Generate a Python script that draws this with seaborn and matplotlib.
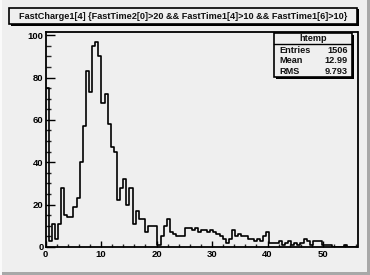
import numpy as np
import pandas as pd
import matplotlib
matplotlib.use("Agg")
import matplotlib.pyplot as plt
import seaborn as sns
from matplotlib.patches import Rectangle
from matplotlib.lines import Line2D

# ---- data ----
counts = [75, 3, 11, 4, 11, 28, 15, 14, 14, 19,
          23, 40, 57, 83, 73, 95, 97, 90, 68, 72,
          58, 47, 45, 22, 28, 32, 20, 28, 11, 17,
          13, 13, 7, 10, 10, 10, 1, 5, 10, 13,
          7, 6, 5, 5, 5, 9, 9, 8, 9, 7,
          8, 8, 7, 8, 7, 6, 5, 4, 2, 4,
          8, 5, 6, 5, 5, 4, 4, 3, 4, 3,
          5, 7, 2, 2, 2, 3, 1, 2, 3, 1,
          2, 1, 2, 4, 3, 1, 3, 3, 3, 1,
          1, 1, 0, 0, 0, 0, 1, 0, 0, 0]
x_range = [0.0, 56.0]
title_text = "FastCharge1[4] {FastTime2[0]>20 && FastTime1[4]>10 && FastTime1[6]>10}"
stats_name = "htemp"
stats_labels = ["Entries", "Mean", "RMS"]
stats_values = ["1506", "12.99", "9.793"]
x_ticks = [0, 10, 20, 30, 40, 50]
y_ticks = [0, 20, 40, 60, 80, 100]

n_bins = len(counts)
edges = np.linspace(x_range[0], x_range[1], n_bins + 1)
centers = (edges[:-1] + edges[1:]) / 2
df = pd.DataFrame({"x": centers, "w": counts})

sns.set_theme(style="ticks")
plt.rcParams["font.family"] = ["Liberation Sans", "DejaVu Sans"]

W, H = 370, 275
def fx(px):
    return px / W
def fy(py):
    return 1 - py / H

bg = "#efefef"
fig = plt.figure(figsize=(W / 100, H / 100), dpi=100)
fig.patch.set_facecolor(bg)

# canvas bevel
fig.add_artist(Rectangle((fx(0), fy(275)), fx(370), 3 / H, transform=fig.transFigure,
                         facecolor="#a8a8a8", edgecolor="none"))
fig.add_artist(Rectangle((fx(367), fy(275)), 3 / W, 1, transform=fig.transFigure,
                         facecolor="#a8a8a8", edgecolor="none"))
fig.add_artist(Rectangle((fx(0), fy(275)), 2 / W, 1, transform=fig.transFigure,
                         facecolor="#fafafa", edgecolor="none"))

ax = fig.add_axes([fx(45.5), fy(247), (357.5 - 45.5) / W, (247 - 32) / H])
ax.set_facecolor(bg)
sns.histplot(data=df, x="x", weights="w", bins=n_bins, binrange=tuple(x_range),
             element="step", fill=False, color="black", linewidth=1.2, ax=ax)
ax.set_xlim(0, 56.2)
ax.set_ylim(0, 101.5)
ax.set_xlabel("")
ax.set_ylabel("")
for s in ax.spines.values():
    s.set_linewidth(1.3)
    s.set_color("black")
ax.set_xticks(x_ticks)
ax.set_yticks(y_ticks)
ax.set_xticks(np.arange(0, 56.2, 2), minor=True)
ax.set_yticks(np.arange(0, 101.5, 5), minor=True)
ax.tick_params(axis="x", which="major", direction="in", length=4, width=1, pad=2,
               labelsize=6.8, colors="black")
ax.tick_params(axis="x", which="minor", direction="in", length=2, width=1)
ax.tick_params(axis="y", which="major", direction="in", length=6.5, width=1, pad=1.5,
               labelsize=6.8, colors="black")
ax.tick_params(axis="y", which="minor", direction="in", length=3.5, width=1)
for lab in ax.get_xticklabels() + ax.get_yticklabels():
    lab.set_fontweight("bold")

# title box with shadow
def box(x0, y0, x1, y1, lw=1.2):
    fig.add_artist(Rectangle((fx(x0 + 1.5), fy(y1 + 1.5)), (x1 - x0) / W, (y1 - y0) / H,
                             transform=fig.transFigure, facecolor="black", edgecolor="none"))
    fig.add_artist(Rectangle((fx(x0), fy(y1)), (x1 - x0) / W, (y1 - y0) / H,
                             transform=fig.transFigure, facecolor=bg, edgecolor="black",
                             linewidth=lw))

box(9, 8, 357, 24)
fig.text(fx(183), fy(16.5), title_text, ha="center", va="center", fontsize=6.6,
         fontweight="bold", color="#111111")

# stats box
box(274, 33.5, 352, 77)
fig.add_artist(Line2D([fx(274), fx(352)], [fy(43.5), fy(43.5)], transform=fig.transFigure,
                      color="black", linewidth=1))
fig.text(fx(313), fy(38.5), stats_name, ha="center", va="center", fontsize=6.6,
         fontweight="bold", color="#111111")
row_y = [50, 60.5, 71]
for lab, val, yy in zip(stats_labels, stats_values, row_y):
    fig.text(fx(279), fy(yy), lab, ha="left", va="center", fontsize=6.6,
             fontweight="bold", color="#111111")
    fig.text(fx(348), fy(yy), val, ha="right", va="center", fontsize=6.6,
             fontweight="bold", color="#111111")

fig.savefig("out.png", dpi=100, facecolor=bg)
